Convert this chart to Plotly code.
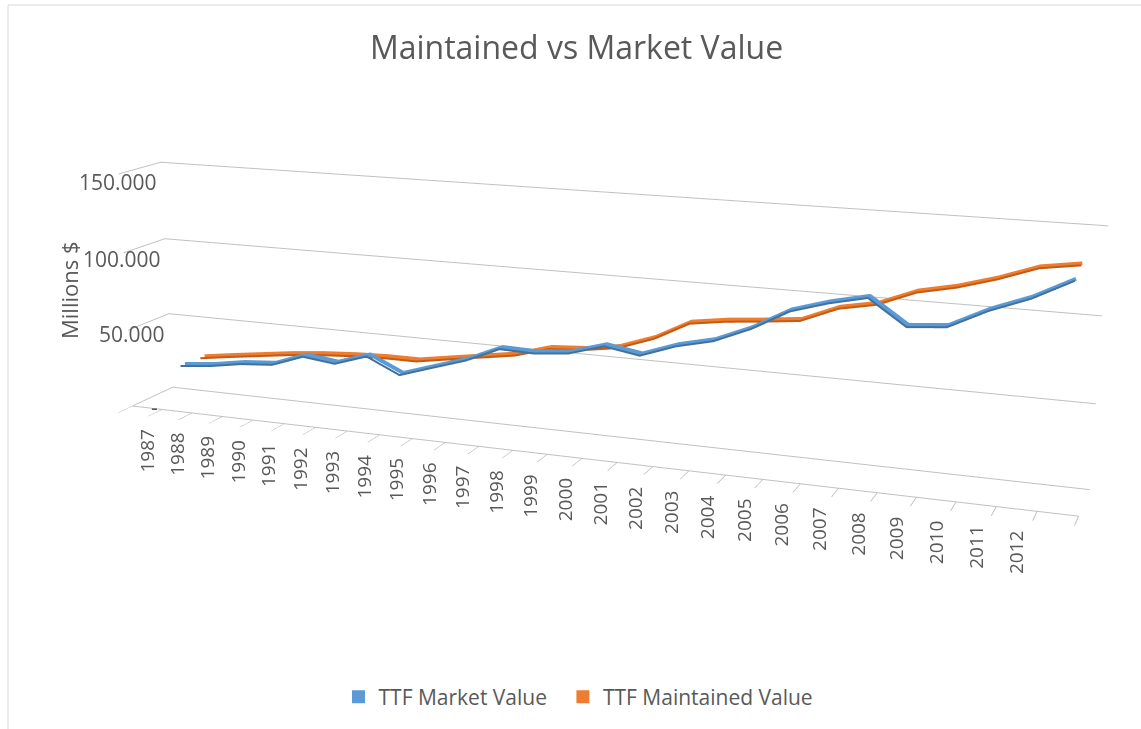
import math
import plotly.graph_objects as go

# ---------------- data ----------------
years = [str(y) for y in range(1987, 2013)] + [""]          # 27 category slots, last one unlabeled
market_value = [None, 28000, 30100, 33500, 35100, 42400, 40000, 46700, 37100, 43800,
                50400, 59500, 58900, 61000, 67300, 63800, 71400, 76400, 85500, 97500,
                104000, 108900, 94400, 96300, 107300, 115800, 127300]
maintained_value = [None, 27200, 30100, 32800, 35500, 37500, 38900, 39700, 39700, 43100,
                    46400, 49700, 55800, 57200, 60500, 68000, 79200, 82300, 84300, 86600,
                    95600, 99800, 108600, 113200, 119600, 127500, 130800]
series_names = ["TTF Market Value", "TTF Maintained Value"]
series_colors = ["#5b9bd5", "#ed7d31"]
series_shade = ["#41719c", "#c55a11"]
z_ticks = [0, 50000, 100000, 150000]
z_tick_text = ["-\u00a0\u00a0", "50.000", "100.000", "150.000"]

FONT = "Open Sans"
TXT = "#595959"
GRID = "#c0c0c0"
W, H = 1141, 729

n_slots = len(years)
n_series = len(series_names)
slot_x = [i + 0.5 for i in range(n_slots)]

fig = go.Figure()
for k, (name, vals) in enumerate(zip(series_names, [market_value, maintained_value])):
    depth = k + 0.5
    # ribbon: lighter top surface + darker front edge (slightly nearer the viewer)
    fig.add_trace(go.Scatter3d(
        x=slot_x, y=[depth] * n_slots, z=vals, mode="lines",
        line=dict(color=series_colors[k], width=8), name=name, showlegend=False, hoverinfo="skip"))
    fig.add_trace(go.Scatter3d(
        x=slot_x, y=[depth - 0.22] * n_slots, z=vals, mode="lines",
        line=dict(color=series_shade[k], width=4), name=name, showlegend=False, hoverinfo="skip"))
    # legend entry (square swatch); trailing no-break spaces widen the gap between entries
    fig.add_trace(go.Scatter(
        x=[None], y=[None], mode="markers",
        name=name + ("\u00a0\u00a0" if k < n_series - 1 else ""),
        marker=dict(symbol="square", size=13, color=series_colors[k])))

# ---------------- camera (Excel-like 3-D rotation: X 21 deg, Y 15 deg, narrow perspective) ----------------
th, ph = math.radians(21), math.radians(15)
fwd = (-math.sin(th) * math.cos(ph), math.cos(th) * math.cos(ph), -math.sin(ph))
r_vec = (math.cos(th), math.sin(th), 0.0)
u_vec = (-math.sin(th) * math.sin(ph), math.cos(th) * math.sin(ph), math.cos(ph))
alpha, beta = -0.023, -0.110
center = {c: alpha * r_vec[i] + beta * u_vec[i] for i, c in enumerate("xyz")}
D = 5.4
eye = {c: center[c] - D * fwd[i] for i, c in enumerate("xyz")}
FOCAL = 2010.0
FOVY = 2 * math.atan((H / 2) / FOCAL)

annotations3d = []
for i in range(n_slots):
    if years[i]:
        annotations3d.append(dict(
            x=slot_x[i], y=0, z=0, text=years[i], showarrow=False, textangle=-90,
            xanchor="center", yanchor="top", yshift=-20,
            font=dict(family=FONT, size=19, color=TXT)))
for v, t in zip(z_ticks, z_tick_text):
    annotations3d.append(dict(
        x=0, y=n_series, z=v, text=t, showarrow=False, xanchor="right", yanchor="middle",
        xshift=-2, yshift=-20, font=dict(family=FONT, size=21, color=TXT)))

common_axis = dict(showbackground=False, zeroline=False, showspikes=False, title=dict(text=""))
fig.update_layout(
    width=W, height=H, margin=dict(l=0, r=0, t=0, b=0),
    paper_bgcolor="white", plot_bgcolor="rgba(0,0,0,0)",
    font=dict(family=FONT, color=TXT),
    title=dict(text="Maintained vs Market Value", x=0.5 + 6 / W, xanchor="center",
               y=1 - 48 / H, yanchor="middle", font=dict(family=FONT, size=32, color=TXT)),
    xaxis=dict(visible=False), yaxis=dict(visible=False),
    legend=dict(orientation="h", x=0.5 + 8 / W, xanchor="center", y=1 - 697 / H, yanchor="middle",
                font=dict(family=FONT, size=21, color=TXT)),
    scene=dict(
        domain=dict(x=[0, 1], y=[0, 1]),
        bgcolor="rgba(0,0,0,0)",
        xaxis=dict(range=[0, n_slots], tickvals=list(range(n_slots + 1)), showticklabels=False,
                   ticks="outside", ticklen=8, tickcolor=GRID, tickwidth=2,
                   showline=True, linecolor=GRID, linewidth=2, showgrid=False, **common_axis),
        yaxis=dict(range=[0, n_series], showticklabels=False, ticks="",
                   showline=False, showgrid=False, **common_axis),
        zaxis=dict(range=[z_ticks[0], z_ticks[-1]], tickvals=z_ticks, showticklabels=False, ticks="",
                   showline=False, showgrid=True, gridcolor=GRID, gridwidth=2, **common_axis),
        aspectmode="manual", aspectratio=dict(x=2.70, y=0.218, z=0.683),
        camera=dict(eye=eye, center=center, up=dict(x=0, y=0, z=1),
                    projection=dict(type="perspective")),
        annotations=annotations3d,
    ),
    annotations=[dict(text="Millions $", x=69 / W, y=1 - 290 / H, xref="paper", yref="paper",
                      xanchor="center", yanchor="middle",
                      showarrow=False, textangle=-90, font=dict(family=FONT, size=22, color=TXT))],
    shapes=[dict(type="rect", xref="paper", yref="paper", x0=8 / W, x1=1.02, y0=-0.02, y1=1 - 5 / H,
                 line=dict(color="#d9d9d9", width=1), fillcolor="rgba(0,0,0,0)", layer="above")],
)

# narrow the 3-D field of view to match the reference's mild perspective
post = """
document.body.style.margin='0';
document.body.style.overflow='hidden';
try {
  var gd = document.getElementById('{plot_id}');
  var sc = gd._fullLayout.scene._scene;
  sc.glplot.fovy = FOVY_VALUE;
  sc.glplot.redraw();
  if (typeof sc.render === 'function') { sc.render(); }
} catch (e) { console.log(e); }
""".replace("FOVY_VALUE", repr(FOVY))

fig.write_html("out.html", config={"displayModeBar": False}, post_script=post)
